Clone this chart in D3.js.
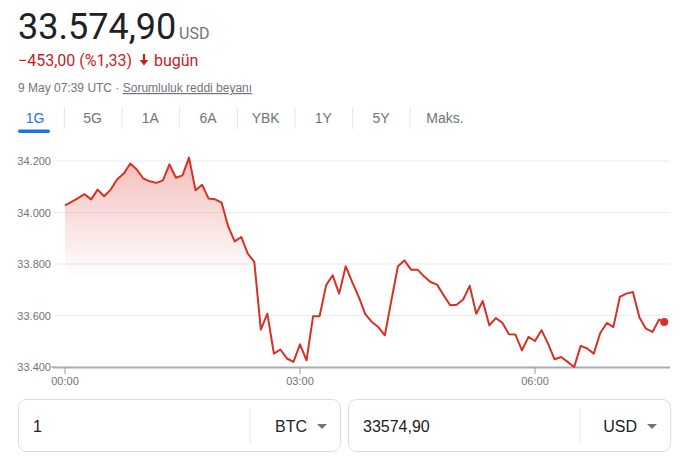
<!DOCTYPE html>
<html lang="tr">
<head>
<meta charset="UTF-8">
<title>BTC / USD</title>
<style>
  body{margin:0;background:#fff;font-family:Arial,"Liberation Sans",sans-serif;}
  svg text{font-family:Arial,"Liberation Sans",sans-serif;}
  svg text.big{font-family:Roboto,Arial,sans-serif;}
</style>
</head>
<body>
<svg id="chart" width="694" height="460"></svg>
<script src="https://cdn.jsdelivr.net/npm/d3@7"></script>
<script>
// price every 5 minutes from 00:00, then the last quote at 07:39
var prices=[34028,34041,34056,34071,34051,34089,34063,34089,34129,34151,
  34190,34167,34132,34121,34115,34125,34187,34135,34144,34213,
  34086,34108,34054,34051,34038,33946,33888,33905,33840,33808,
  33545,33607,33452,33468,33433,33420,33488,33426,33597,33597,
  33717,33756,33685,33791,33730,33672,33605,33575,33555,33523,
  33659,33791,33814,33778,33778,33752,33730,33720,33679,33640,
  33642,33662,33715,33607,33656,33562,33590,33572,33527,33526,
  33465,33517,33501,33543,33491,33430,33439,33420,33400,33482,
  33472,33452,33532,33571,33555,33672,33685,33691,33592,33549,
  33536,33584]
var lastPrice=33574.90, lastMinute=459
var yTicks=[33400,33600,33800,34000,34200]
var xTicks=[0,180,360]
var xTickLabels=['00:00','03:00','06:00']
var tabs=['1G','5G','1A','6A','YBK','1Y','5Y','Maks.']

var data=prices.map((v,i)=>({t:i*5,v:v}))
data.push({t:lastMinute,v:lastPrice})

var svg=d3.select('#chart')
var red='#d93025', gray='#70757a', dark='#202124'

// header
svg.append('text').attr('class','big').attr('x',18).attr('y',39).attr('font-size',36).attr('fill',dark).text('33.574,90')
svg.append('text').attr('class','big').attr('x',179).attr('y',39).attr('font-size',16).attr('fill',gray).text('USD')
svg.append('text').attr('class','big').attr('x',18).attr('y',66).attr('font-size',16).attr('fill','#c5221f').text('\u2212453,00 (%1,33)')
svg.append('path').attr('d','M142.9,54h2.2v6h3.2l-4.3,5.5l-4.3,-5.5h3.2z').attr('fill','#c5221f')
svg.append('text').attr('class','big').attr('x',154).attr('y',66).attr('font-size',16).attr('fill','#c5221f').text('bugün')
var info=svg.append('text').attr('x',18).attr('y',92).attr('font-size',12).attr('fill',gray)
info.append('tspan').text('9 May 07:39 UTC · ')
info.append('tspan').attr('text-decoration','underline').text('Sorumluluk reddi beyanı')

// tabs
var tabX=d3.scalePoint().domain(tabs.slice(0,7)).range([35,381])
tabs.forEach(function(t,i){
  var cx=i<7?tabX(t):445
  svg.append('text').attr('x',cx).attr('y',123).attr('text-anchor','middle').attr('font-size',14)
    .attr('fill',i==0?'#1a73e8':gray).text(t)
  if(i>0){
    var sx=i<7?(tabX(tabs[i-1])+cx)/2+0.5:410
    svg.append('line').attr('x1',sx).attr('x2',sx).attr('y1',107).attr('y2',129).attr('stroke','#e3e5e8')
  }
})
svg.append('rect').attr('x',18).attr('y',129.5).attr('width',32).attr('height',3.5).attr('rx',1.7).attr('fill','#1a73e8')

// chart
var x=d3.scaleLinear().domain([0,180]).range([65,300])
var y=d3.scaleLinear().domain([33400,34200]).range([367,161])

svg.append('g').selectAll('line').data(yTicks.slice(1)).join('line')
  .attr('x1',53).attr('x2',670).attr('y1',d=>y(d)).attr('y2',d=>y(d)).attr('stroke','#ebebeb')

var fmt=d=>d3.format(',')(d).replace(',','.')
svg.append('g').selectAll('text').data(yTicks).join('text')
  .attr('x',51).attr('y',d=>y(d)+4).attr('text-anchor','end').attr('font-size',11).attr('fill',gray).text(fmt)
svg.append('line').attr('x1',51).attr('x2',54).attr('y1',y(33400)).attr('y2',y(33400)).attr('stroke','#9aa0a6')

var grad=svg.append('defs').append('linearGradient').attr('id','fade')
  .attr('gradientUnits','userSpaceOnUse').attr('x1',0).attr('x2',0).attr('y1',155).attr('y2',367)
grad.append('stop').attr('offset','0%').attr('stop-color',red).attr('stop-opacity',0.32)
grad.append('stop').attr('offset','58%').attr('stop-color',red).attr('stop-opacity',0)

var area=d3.area().x(d=>x(d.t)).y0(y(33400)).y1(d=>y(d.v))
var line=d3.line().x(d=>x(d.t)).y(d=>y(d.v))
svg.append('path').datum(data).attr('d',area).attr('fill','url(#fade)')

svg.append('line').attr('x1',53).attr('x2',670).attr('y1',y(33400)+0.5).attr('y2',y(33400)+0.5)
  .attr('stroke','#a8acb0').attr('stroke-width',2)
var xAxis=svg.append('g')
xAxis.selectAll('line').data(xTicks).join('line')
  .attr('x1',d=>x(d)).attr('x2',d=>x(d)).attr('y1',y(33400)).attr('y2',y(33400)+7).attr('stroke','#9aa0a6')
xAxis.selectAll('text').data(xTicks).join('text')
  .attr('x',d=>x(d)).attr('y',385).attr('text-anchor','middle').attr('font-size',11).attr('fill',gray)
  .text((d,i)=>xTickLabels[i])

svg.append('path').datum(data).attr('d',line).attr('fill','none').attr('stroke',red)
  .attr('stroke-width',2).attr('stroke-linejoin','round')
svg.append('circle').attr('cx',x(lastMinute)).attr('cy',y(lastPrice)).attr('r',4).attr('fill',red)

// converter boxes
function box(x0,x1,val,cur){
  svg.append('rect').attr('x',x0+0.5).attr('y',399.5).attr('width',x1-x0).attr('height',52).attr('rx',8)
    .attr('fill','#fff').attr('stroke','#dadce0')
  svg.append('text').attr('x',x0+15).attr('y',432).attr('font-size',16).attr('fill',dark).text(val)
  svg.append('line').attr('x1',x0+232).attr('x2',x0+232).attr('y1',409).attr('y2',443).attr('stroke','#e3e5e8')
  svg.append('text').attr('x',x1-33).attr('y',432).attr('text-anchor','end').attr('font-size',16).attr('fill',dark).text(cur)
  svg.append('path').attr('d','M'+(x1-23)+',424h10l-5,5z').attr('fill',gray)
}
box(18,340,'1','BTC')
box(348,670,'33574,90','USD')
</script>
</body>
</html>
